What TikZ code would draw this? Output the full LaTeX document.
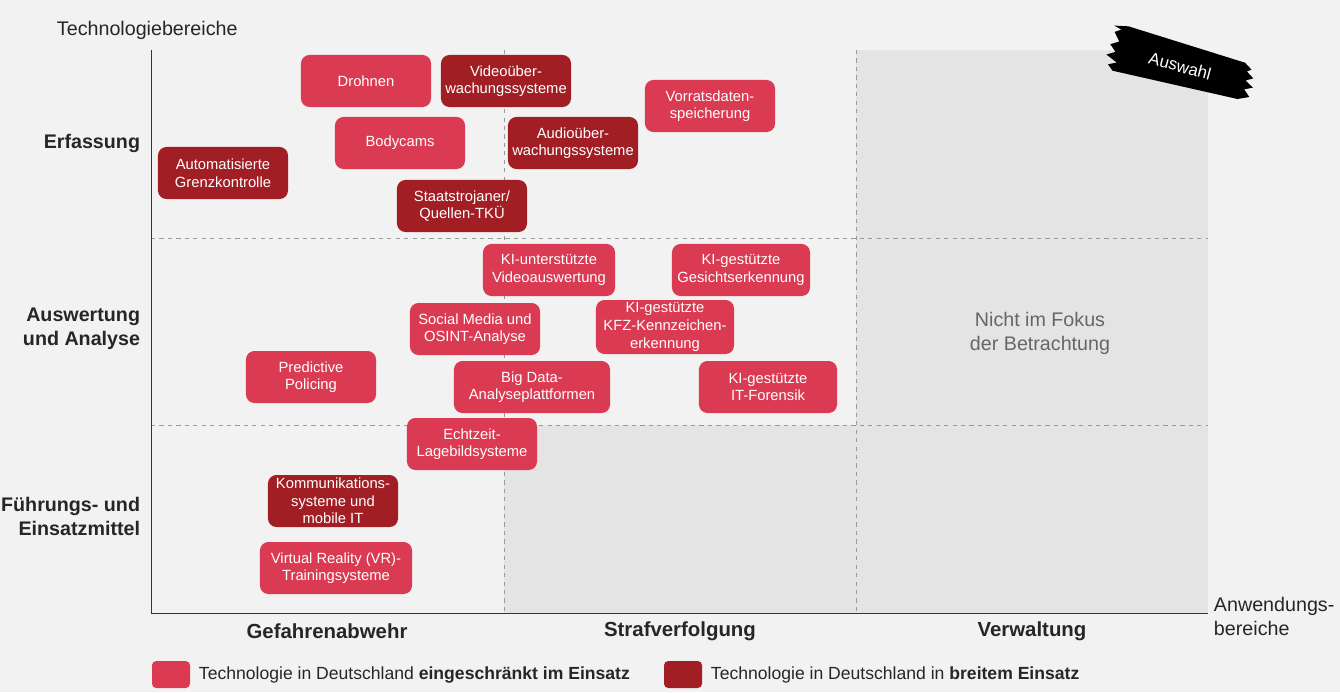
\documentclass[tikz,border=0pt]{standalone}
\usepackage{fontspec}
\setmainfont{Liberation Sans}
\usetikzlibrary{positioning}
\definecolor{hell}{HTML}{DA3A52}
\definecolor{dunkel}{HTML}{A11F24}
\definecolor{fond}{HTML}{F2F2F2}
\definecolor{grau}{HTML}{E4E4E4}
\tikzset{
  tech/.style={rounded corners=6pt,minimum width=3.25cm,minimum height=1.3cm,align=center,text=white,font=\fontsize{10.5}{12.5}\selectfont,inner sep=2pt},
  light/.style={tech,fill=hell},
  dark/.style={tech,fill=dunkel},
  grid/.style={dashed,gray!80,line width=0.6pt},
  zeile/.style={font=\fontsize{14}{17}\selectfont\bfseries,align=right,anchor=east,text=black!85},
  spalte/.style={font=\fontsize{14.5}{17}\selectfont\bfseries,text=black!85}
}
\begin{document}
\begin{tikzpicture}[x=0.025cm,y=-0.025cm]
\fill[fond] (0,0) rectangle (1340,692);
\useasboundingbox (0,0) rectangle (1340,692);
% Bereiche
\fill[grau] (856,50) rectangle (1208,613);
\fill[grau] (504,425) rectangle (856,613);
\draw[grid] (504,50) -- (504,613);
\draw[grid] (856,50) -- (856,613);
\draw[grid] (151,238) -- (1208,238);
\draw[grid] (151,425) -- (1208,425);
\draw[black!80,line width=0.7pt] (151,50) -- (151,613) -- (1208,613);

\node[anchor=west,font=\fontsize{14}{17}\selectfont,text=black!85] (yachse) at (52,30) {Technologiebereiche};
\node[anchor=west,align=left,font=\fontsize{14}{17}\selectfont,text=black!85] (xachse) at (1209,616) {Anwendungs-\\bereiche};
\node[zeile] (erf) at (145,143) {Erfassung};
\node[zeile] (ausw) at (145,329) {Auswertung\\und Analyse};
\node[zeile] (fuehr) at (145,516) {Führungs- und\\Einsatzmittel};
\node[spalte] (gef) at (327,631) {Gefahrenabwehr};
\node[spalte] (straf) at (680,631) {Strafverfolgung};
\node[spalte] (verw) at (1032,631) {Verwaltung};
\node[align=center,text=black!60,font=\fontsize{14}{17}\selectfont] (fokus) at (1040,333) {Nicht im Fokus\\der Betrachtung};

% Technologien
\node[light] (drohnen) at (366,81) {Drohnen};
\node[dark] (video) at (506,81) {Videoüber-\\wachungssysteme};
\node[light] (vorrat) at (710,106) {Vorratsdaten-\\speicherung};
\node[light] (bodycams) at (400,143) {Bodycams};
\node[dark] (audio) at (573,143) {Audioüber-\\wachungssysteme};
\node[dark] (grenze) at (223,173) {Automatisierte\\Grenzkontrolle};
\node[dark] (trojaner) at (462,206) {Staatstrojaner/\\Quellen-TKÜ};
\node[light,minimum width=3.3cm] (kivideo) at (549,270) {KI-unterstützte\\Videoauswertung};
\node[light,minimum width=3.45cm] (gesicht) at (741,270) {KI-gestützte\\Gesichtserkennung};
\node[light] (osint) at (475,329) {Social Media und\\OSINT-Analyse};
\node[light,minimum width=3.45cm] (kfz) at (665,327) {KI-gestützte\\KFZ-Kennzeichen-\\erkennung};
\node[light] (predictive) at (311,377) {Predictive\\Policing};
\node[light,minimum width=3.9cm] (bigdata) at (532,387) {Big Data-\\Analyseplattformen};
\node[light,minimum width=3.45cm] (forensik) at (768,387) {KI-gestützte\\IT-Forensik};
\node[light] (lage) at (472,444) {Echtzeit-\\Lagebildsysteme};
\node[dark] (komm) at (333,501) {Kommunikations-\\systeme und\\mobile IT};
\node[light,minimum width=3.8cm] (vr) at (336,568) {Virtual Reality (VR)-\\Trainingsysteme};

% Auswahl
\begin{scope}[shift={(1180,66)},rotate=-15,transform shape]
\fill[black] (-72,-16) -- (-66,-20) -- (-74,-22) -- (-60,-25) -- (62,-20) -- (70,-15) -- (66,-12) -- (74,-7) -- (67,-3) -- (76,2) -- (68,6) -- (75,12) -- (64,17) -- (-64,22) -- (-70,17) -- (-62,13) -- (-74,8) -- (-66,3) -- (-73,-3) -- (-65,-8) -- cycle;
\node[text=white,font=\fontsize{12}{14}\selectfont] (auswahl) at (0,0) {Auswahl};
\end{scope}

% Legende
\fill[hell,rounded corners=3pt] (152,661) rectangle (190,688);
\node[anchor=west,font=\fontsize{12.5}{15}\selectfont,text=black!85] (leg1) at (194,675) {Technologie in Deutschland \textbf{eingeschränkt im Einsatz}};
\fill[dunkel,rounded corners=3pt] (664,661) rectangle (702,688);
\node[anchor=west,font=\fontsize{12.5}{15}\selectfont,text=black!85] (leg2) at (706,675) {Technologie in Deutschland in \textbf{breitem Einsatz}};
\end{tikzpicture}
\end{document}
